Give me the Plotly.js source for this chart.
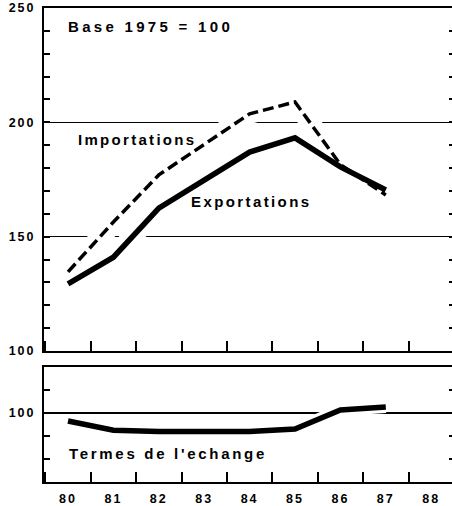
<!DOCTYPE html>
<html>
<head>
<meta charset="utf-8">
<script src="https://cdn.plot.ly/plotly-3.0.1.min.js"></script>
<style>
  html, body { margin: 0; padding: 0; background: #fff; overflow: hidden; }
  #chart { width: 452px; height: 506px; overflow: hidden; }
  .xtick text, .ytick text, .x2tick text, .y2tick text { letter-spacing: 2px; }
</style>
</head>
<body>
<div id="chart"></div>
<script>
// ---- data ----
const years = [80, 81, 82, 83, 84, 85, 86, 87];
const exportations = [129.3, 141, 162.5, 175, 187, 193.2, 180.5, 170.4];
const importations = [134.6, 156.4, 177, 190.5, 203.7, 208.9, 181.5, 168.2];
const termesEchange = [96.5, 92.5, 92, 91.8, 92, 93, 101.3, 102.6];
const xTickVals = [80, 81, 82, 83, 84, 85, 86, 87, 88];
const xTickLabels = ['80', '81', '82', '83', '84', '85', '86', '87', '88'];
const labelBase = 'Base 1975 = 100';
const labelImport = 'Importations';
const labelExport = 'Exportations';
const labelTermes = "Termes de l'echange";

const FONT = 'Liberation Sans, Arial, Helvetica, sans-serif';
const black = '#000';

const traces = [
  // white halos that interrupt the grid lines around the curves
  {x: years, y: exportations, xaxis: 'x2', yaxis: 'y2', mode: 'lines',
   line: {color: '#fff', width: 20}, hoverinfo: 'skip', showlegend: false},
  {x: years, y: importations, xaxis: 'x2', yaxis: 'y2', mode: 'lines',
   line: {color: '#fff', width: 20}, hoverinfo: 'skip', showlegend: false},
  {x: years, y: termesEchange, xaxis: 'x', yaxis: 'y', mode: 'lines',
   line: {color: '#fff', width: 12}, hoverinfo: 'skip', showlegend: false},
  // actual series
  {x: years, y: importations, xaxis: 'x2', yaxis: 'y2', mode: 'lines', name: labelImport,
   line: {color: black, width: 3.5, dash: '11px,5px'}, showlegend: false},
  {x: years, y: exportations, xaxis: 'x2', yaxis: 'y2', mode: 'lines', name: labelExport,
   line: {color: black, width: 5.5}, showlegend: false},
  {x: years, y: termesEchange, xaxis: 'x', yaxis: 'y', mode: 'lines', name: labelTermes,
   line: {color: black, width: 5.5}, showlegend: false}
];

const tickFont = {family: FONT, size: 12.5, color: black, weight: 700};
const xCommon = {
  range: [79.471, 88.524],
  tickmode: 'array', tickvals: xTickVals, ticktext: xTickLabels,
  ticks: '', showgrid: false, zeroline: false,
  showline: true, linecolor: black, linewidth: 2, mirror: true,
  minor: {tickmode: 'linear', tick0: 80.5, dtick: 1, ticks: 'inside', ticklen: 10,
          tickwidth: 2, tickcolor: black, showgrid: false},
  tickfont: tickFont, fixedrange: true
};

const annFont = {family: FONT, size: 15, color: black, weight: 700};
const layout = {
  width: 456, height: 506,
  margin: {l: 44, r: 1, t: 8, b: 24},
  paper_bgcolor: '#fff', plot_bgcolor: '#fff',
  showlegend: false,
  xaxis: Object.assign({}, xCommon, {anchor: 'y', showticklabels: true, ticklabelstandoff: 4}),
  xaxis2: Object.assign({}, xCommon, {anchor: 'y2', showticklabels: false}),
  yaxis: {
    domain: [0, 0.2426], range: [70, 120],
    tickmode: 'array', tickvals: [100], ticktext: ['100'],
    ticks: 'inside', ticklen: 6, tickwidth: 2, tickcolor: black,
    showgrid: true, gridcolor: black, gridwidth: 1.5, zeroline: false,
    showline: true, linecolor: black, linewidth: 2, mirror: 'ticks',
    minor: {tickmode: 'linear', tick0: 70, dtick: 10, ticks: 'inside', ticklen: 6,
            tickwidth: 2, tickcolor: black, showgrid: false},
    tickfont: tickFont, ticklabelstandoff: 4, fixedrange: true
  },
  yaxis2: {
    domain: [0.2764, 1], range: [100, 250],
    tickmode: 'linear', tick0: 100, dtick: 50,
    ticks: 'inside', ticklen: 6, tickwidth: 2, tickcolor: black,
    showgrid: true, gridcolor: black, gridwidth: 1.5, zeroline: false,
    showline: true, linecolor: black, linewidth: 2, mirror: 'ticks',
    minor: {tickmode: 'linear', tick0: 100, dtick: 10, ticks: 'inside', ticklen: 6,
            tickwidth: 2, tickcolor: black, showgrid: false},
    tickfont: tickFont, ticklabelstandoff: 4, fixedrange: true
  },
  annotations: [
    {text: labelBase, xref: 'x2', yref: 'y2', x: 79.95, y: 241.7,
     xanchor: 'left', yanchor: 'middle', showarrow: false, font: annFont},
    {text: labelImport, xref: 'x2', yref: 'y2', x: 80.17, y: 192.3,
     xanchor: 'left', yanchor: 'middle', showarrow: false, font: annFont},
    {text: labelExport, xref: 'x2', yref: 'y2', x: 82.66, y: 165.2,
     xanchor: 'left', yanchor: 'middle', showarrow: false, font: annFont},
    {text: labelTermes, xref: 'x', yref: 'y', x: 79.97, y: 82.6,
     xanchor: 'left', yanchor: 'middle', showarrow: false, font: annFont}
  ]
};

const spacing = [3.3, 2.3, 2.4, 2.7];
Plotly.newPlot('chart', traces, layout, {staticPlot: true, displayModeBar: false}).then(() => {
  document.querySelectorAll('g.annotation').forEach(g => {
    const i = +g.getAttribute('data-index');
    const t = g.querySelector('text.annotation-text');
    if (!t) return;
    const bb = t.getBBox();
    t.setAttribute('text-anchor', 'start');
    t.setAttribute('x', bb.x);
    t.querySelectorAll('tspan[x]').forEach(s => s.setAttribute('x', bb.x));
    t.style.letterSpacing = spacing[i] + 'px';
  });
});
</script>
</body>
</html>
